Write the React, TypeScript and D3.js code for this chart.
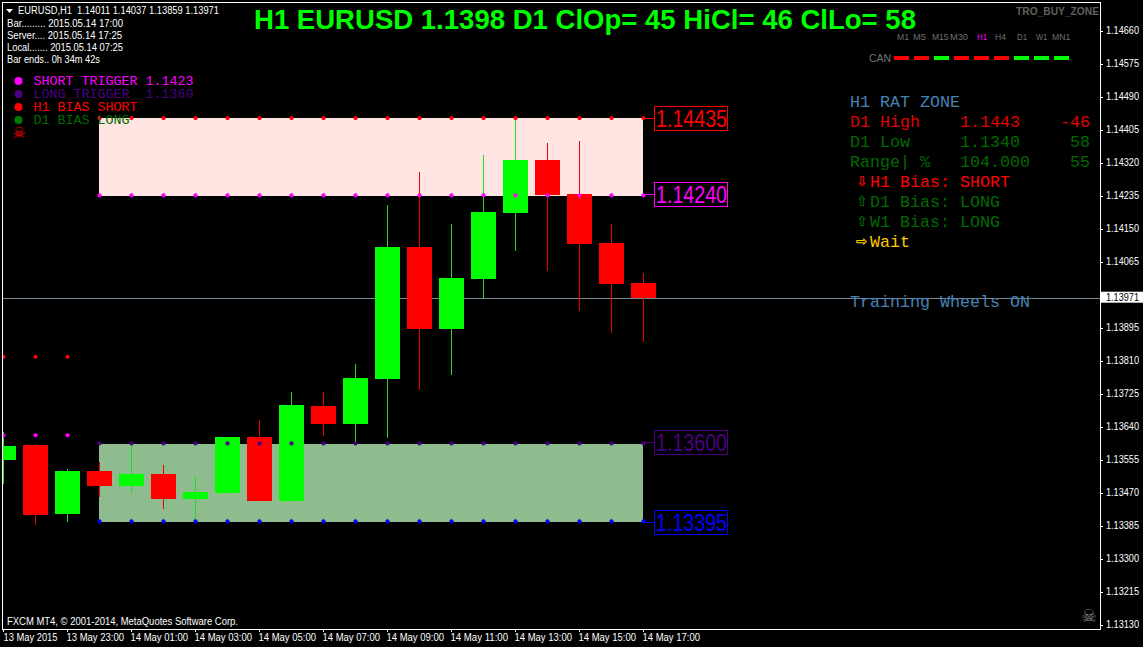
import React, { useEffect, useRef } from 'react';
import * as d3 from 'd3';

const opens = [1.13554, 1.13593, 1.13415, 1.13526, 1.13487, 1.13518, 1.13454, 1.13469, 1.13614, 1.13449, 1.13693, 1.13647, 1.13763, 1.14103, 1.13892, 1.14021, 1.1419, 1.14327, 1.14239, 1.14113, 1.14011];
const highs = [1.13626, 1.13595, 1.13531, 1.13549, 1.13595, 1.13541, 1.13513, 1.13614, 1.13657, 1.13729, 1.13729, 1.13801, 1.14211, 1.14296, 1.14162, 1.1434, 1.14435, 1.14371, 1.14376, 1.14162, 1.14037];
const lows = [1.13492, 1.13387, 1.13395, 1.13459, 1.13469, 1.13428, 1.13395, 1.13467, 1.13449, 1.13446, 1.13616, 1.13595, 1.13611, 1.13735, 1.13773, 1.13972, 1.14093, 1.14041, 1.13938, 1.13881, 1.13859];
const closes = [1.1359, 1.13413, 1.13526, 1.13487, 1.13518, 1.13454, 1.13472, 1.13614, 1.13449, 1.13696, 1.13647, 1.13765, 1.14103, 1.13892, 1.14023, 1.14193, 1.14327, 1.14237, 1.14111, 1.14008, 1.13971];

const barIndex = d3.range(opens.length);
const timeLabels = ['13 May 2015', '13 May 23:00', '14 May 01:00', '14 May 03:00', '14 May 05:00', '14 May 07:00', '14 May 09:00', '14 May 11:00', '14 May 13:00', '14 May 15:00', '14 May 17:00'];
const priceTicks = [1.1466, 1.14575, 1.1449, 1.14405, 1.1432, 1.14235, 1.1415, 1.14065, 1.1398, 1.13895, 1.1381, 1.13725, 1.1364, 1.13555, 1.1347, 1.13385, 1.133, 1.13215, 1.1313];
const hiddenTick = 1.1398; // sits under the current price tag

const redDots = [1.1382, 1.1382, 1.1382, ...Array(18).fill(1.14435)];
const magentaDots = [1.13618, 1.13618, 1.13618, ...Array(18).fill(1.14236)];
const indigoDots = [null, null, null, ...Array(18).fill(1.13597)];
const blueDots = [null, null, null, ...Array(18).fill(1.13396)];

const shortZone = [1.14435, 1.14234];
const longZone = [1.13595, 1.13395];
const boxPrices = [1.14435, 1.1424, 1.136, 1.13395];
const boxColors = ['#ff0000', '#ff00ff', '#4b0082', '#0000ff'];
const lastPrice = 1.13971;

const timeframes = ['M1', 'M5', 'M15', 'M30', 'H1', 'H4', 'D1', 'W1', 'MN1'];
const timeframeX = [897, 913, 932, 950, 977, 995, 1017, 1036, 1052];
const timeframeW = [12, 13, 16.5, 18, 10, 11, 10, 11, 18.5];
const canUp = [false, false, true, false, false, false, true, true, true];

const legendRows = [
  { text: 'SHORT TRIGGER 1.1423', color: '#ff00ff' },
  { text: 'LONG TRIGGER  1.1360', color: '#4b0082' },
  { text: 'H1 BIAS SHORT', color: '#ff0000' },
  { text: 'D1 BIAS LONG', color: '#006a00' },
];
const panelRows = [
  { text: 'H1 RAT ZONE', color: '#4682b4', baseline: 107 },
  { text: 'D1 High    1.1443    -46', color: '#e00000', baseline: 127 },
  { text: 'D1 Low     1.1340     58', color: '#006a00', baseline: 147 },
  { text: 'Range| %   104.000    55', color: '#006a00', baseline: 167 },
];
const biasRows = [
  { arrow: '⇩', text: 'H1 Bias: SHORT', color: '#ff0000', baseline: 187 },
  { arrow: '⇧', text: 'D1 Bias: LONG', color: '#006a00', baseline: 207 },
  { arrow: '⇧', text: 'W1 Bias: LONG', color: '#006a00', baseline: 227 },
  { arrow: '⇨', text: 'Wait', color: '#ffc800', baseline: 247 },
];
const infoRows = [
  { text: 'Bar......... 2015.05.14 17:00', width: 116, baseline: 27 },
  { text: 'Server.... 2015.05.14 17:25', width: 115, baseline: 39 },
  { text: 'Local....... 2015.05.14 07:25', width: 116, baseline: 51 },
  { text: 'Bar ends.. 0h 34m 42s', width: 93, baseline: 63 },
];

const x = d3.scaleLinear().domain([0, 20]).range([3, 643]);
const y = d3.scaleLinear().domain([1.1313, 1.1466]).range([624.7, 30.7]);
const dot = d3.symbol(d3.symbolCircle, 14)();
const fmt = d3.format('.5f');

const sans = '"Liberation Sans", Arial, sans-serif';
const mono = '"Liberation Mono", monospace';

const Dots = ({ values, color }: { values: (number | null)[]; color: string }) => (
  <g fill={color}>
    {values.map((v, i) =>
      v === null ? null : <path key={i} d={dot as string} transform={`translate(${x(i) + 0.5},${y(v)})`} />
    )}
  </g>
);

export default function App() {
  const yAxisRef = useRef<SVGGElement>(null);
  const xAxisRef = useRef<SVGGElement>(null);

  useEffect(() => {
    document.body.style.margin = '0';
    const yAxis = d3.axisRight(y).tickValues(priceTicks).tickSize(3).tickPadding(3)
      .tickFormat((d: any) => (d === hiddenTick ? '' : fmt(d)));
    const yg = d3.select(yAxisRef.current as SVGGElement).call(yAxis as any);
    yg.select('.domain').remove();
    yg.selectAll('line').attr('stroke', '#fff').attr('shape-rendering', 'crispEdges');
    yg.selectAll('text').filter((d: any) => d !== hiddenTick)
      .attr('fill', '#fff').attr('font-family', sans).attr('font-size', 10).attr('textLength', 33).attr('lengthAdjust', 'spacingAndGlyphs');

    const xAxis = d3.axisBottom(x).tickValues(timeLabels.map((_, i) => i * 2)).tickSize(3).tickPadding(2).tickFormat((d: any) => timeLabels[d / 2]);
    const xg = d3.select(xAxisRef.current as SVGGElement).call(xAxis as any);
    xg.select('.domain').remove();
    xg.selectAll('line').attr('stroke', '#fff').attr('shape-rendering', 'crispEdges');
    xg.selectAll('text')
      .attr('fill', '#fff').attr('font-family', sans).attr('font-size', 10)
      .attr('text-anchor', 'start').attr('x', (d: any) => (d === 0 ? 0 : -1))
      .attr('textLength', (d: any) => (d === 0 ? 54 : 57.5)).attr('lengthAdjust', 'spacingAndGlyphs');
  }, []);

  return (
    <svg width={1143} height={647} style={{ position: 'fixed', left: 0, top: 0, background: '#000' }}>
      <defs>
        <clipPath id="plot">
          <rect x={3} y={3} width={1097} height={626} />
        </clipPath>
      </defs>

      {/* zones */}
      <g shapeRendering="crispEdges">
        <rect x={x(3)} width={x(20) - x(3)} y={y(shortZone[0])} height={y(shortZone[1]) - y(shortZone[0])} fill="#ffe4e1" />
        <rect x={x(3)} width={x(20) - x(3)} y={y(longZone[0])} height={y(longZone[1]) - y(longZone[0])} fill="#8fbc8f" />
        <line x1={2} x2={1100} y1={Math.round(y(lastPrice)) + 0.5} y2={Math.round(y(lastPrice)) + 0.5} stroke="#778899" />
      </g>

      {/* candles */}
      <g clipPath="url(#plot)" shapeRendering="crispEdges">
        {barIndex.map(i => {
          const up = closes[i] > opens[i];
          const top = y(Math.max(opens[i], closes[i]));
          const bottom = y(Math.min(opens[i], closes[i]));
          return (
            <g key={i}>
              <line x1={x(i) + 0.5} x2={x(i) + 0.5} y1={y(highs[i])} y2={y(lows[i])} stroke={up ? '#22dd22' : '#ee0000'} />
              <rect x={x(i) - 12} width={25} y={top} height={bottom - top} fill={up ? '#00ff00' : '#ff0000'} />
            </g>
          );
        })}
      </g>

      <g clipPath="url(#plot)">
        <Dots values={redDots} color="#ff0000" />
        <Dots values={magentaDots} color="#ff00ff" />
        <Dots values={indigoDots} color="#4b0082" />
        <Dots values={blueDots} color="#0000ff" />
      </g>

      {/* price boxes */}
      {boxPrices.map((p, i) => {
        const cy = Math.round(y(p));
        return (
          <g key={p}>
            <line x1={x(20)} x2={654} y1={cy + 0.5} y2={cy + 0.5} stroke={boxColors[i]} shapeRendering="crispEdges" />
            <rect x={654.5} y={cy - 12 + 0.5} width={73} height={24} fill="#000" stroke={boxColors[i]} shapeRendering="crispEdges" />
            <text x={656} y={cy + 9} fill={boxColors[i]} fontFamily={sans} fontSize={24} textLength={71} lengthAdjust="spacingAndGlyphs">{fmt(p)}</text>
          </g>
        );
      })}

      {/* frame */}
      <path d="M2.5,2.5H1100.5V629.5H2.5Z" fill="none" stroke="#fff" shapeRendering="crispEdges" />
      <g ref={yAxisRef} transform="translate(1100,0)" />
      <g ref={xAxisRef} transform="translate(0,629)" />

      {/* current price tag */}
      <rect x={1101} y={y(lastPrice) - 6.5} width={42} height={11} fill="#fff" />
      <text x={1106} y={y(lastPrice) + 3} fill="#000" fontFamily={sans} fontSize={10} textLength={33} lengthAdjust="spacingAndGlyphs">
        {fmt(lastPrice)}
      </text>

      {/* header */}
      <path d="M6,9H13L9.5,13Z" fill="#fff" />
      <text x={18} y={14} fill="#fff" fontFamily={sans} fontSize={10} textLength={201} lengthAdjust="spacingAndGlyphs" xmlSpace="preserve">
        EURUSD,H1  1.14011 1.14037 1.13859 1.13971
      </text>
      {infoRows.map(r => (
        <text key={r.text} x={7} y={r.baseline} fill="#fff" fontFamily={sans} fontSize={10} textLength={r.width} lengthAdjust="spacingAndGlyphs">{r.text}</text>
      ))}
      <text x={254} y={29} fill="#00ff00" fontFamily={sans} fontWeight="bold" fontSize={28} textLength={662} lengthAdjust="spacingAndGlyphs">
        H1 EURUSD 1.1398 D1 ClOp= 45 HiCl= 46 ClLo= 58
      </text>
      <text x={1016} y={15} fill="#606060" fontFamily={sans} fontWeight="bold" fontSize={11} textLength={83} lengthAdjust="spacingAndGlyphs">TRO_BUY_ZONE</text>

      {/* timeframes */}
      {timeframes.map((t, i) => (
        <text key={t} x={timeframeX[i]} y={40} fill={t === 'H1' ? '#ff00ff' : '#707070'} fontFamily={sans} fontSize={9} textLength={timeframeW[i]} lengthAdjust="spacingAndGlyphs">{t}</text>
      ))}
      <text x={869} y={62} fill="#707070" fontFamily={sans} fontSize={10.5}>CAN</text>
      {canUp.map((up, i) => (
        <rect key={i} x={894 + i * 20} y={56} width={15} height={4} fill={up ? '#00ff00' : '#ff0000'} />
      ))}

      {/* legend */}
      {legendRows.map((r, i) => (
        <g key={r.text}>
          <circle cx={18.5} cy={81 + i * 13} r={4} fill={i === 3 ? '#007a00' : r.color} />
          <text x={33.5} y={85 + i * 13} fill={r.color} fontFamily={mono} fontSize={13.33} xmlSpace="preserve">{r.text}</text>
        </g>
      ))}
      <text x={19} y={138} fill="#ff0000" fontFamily='"DejaVu Sans"' fontSize={15} textAnchor="middle">☠</text>

      {/* right panel */}
      {panelRows.map(r => (
        <text key={r.text} x={850} y={r.baseline} fill={r.color} fontFamily={mono} fontSize={16.67} xmlSpace="preserve">{r.text}</text>
      ))}
      {biasRows.map(r => (
        <g key={r.text}>
          <text x={856} y={r.baseline - 1} fill={r.color} fontFamily='"DejaVu Sans"' fontSize={14} fontWeight="bold">{r.arrow}</text>
          <text x={870} y={r.baseline} fill={r.color} fontFamily={mono} fontSize={16.67}>{r.text}</text>
        </g>
      ))}
      <text x={850} y={307} fill="#4682b4" fontFamily={mono} fontSize={16.67}>Training Wheels ON</text>

      <text x={7} y={625} fill="#fff" fontFamily={sans} fontSize={10} textLength={231} lengthAdjust="spacingAndGlyphs">FXCM MT4, © 2001-2014, MetaQuotes Software Corp.</text>
      <text x={1089} y={622} fill="#808080" fontFamily='"DejaVu Sans"' fontSize={18} textAnchor="middle">☠</text>
    </svg>
  );
}
